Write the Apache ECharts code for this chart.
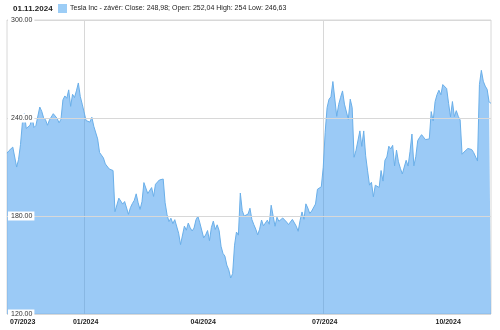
<!DOCTYPE html>
<html>
<head>
<meta charset="utf-8">
<script src="https://cdn.jsdelivr.net/npm/echarts@6/dist/echarts.min.js"></script>
<style>
html,body{margin:0;padding:0;background:#fff;}
#chart{width:500px;height:330px;}
</style>
</head>
<body>
<div id="chart"></div>
<script>
// Daily closes (trading days), grouped by month
const nov2023 = [218.51,219.96,219.27,222.18,222.11,209.98,214.65,223.71,237.41,242.84,233.59,234.30,235.60,241.20,234.21,235.45,236.08,246.72,244.14,240.08];
const dec2023 = [238.83,235.58,238.72,239.37,242.64,243.84,239.74,237.01,239.29,251.05,253.50,252.08,257.22,247.14,254.50,252.54,256.61,261.44,253.18,248.48];
const jan2024 = [248.42,238.45,237.93,237.49,240.45,234.96,233.94,227.22,218.89,219.91,215.55,211.88,212.19,208.80,209.14,207.83,182.63,183.25,190.93,191.59,187.29];
const feb2024 = [188.86,187.91,181.06,185.10,187.58,189.56,193.57,188.13,184.02,188.71,200.45,199.95,193.76,194.77,197.41,191.97,199.40,199.73,202.04,201.88];
const mar2024 = [202.64,188.14,180.74,176.54,178.65,175.34,177.77,177.54,169.48,162.50,163.57,173.80,171.32,175.66,172.82,170.83,172.63,177.67,179.83,175.79];
const apr2024 = [175.22,166.63,168.38,171.11,164.90,172.98,176.88,171.76,174.60,171.05,161.48,157.11,155.45,149.93,147.05,142.05,144.68,162.13,170.18,168.29,194.05,183.28];
const may2024 = [179.99,180.01,181.19,184.76,177.81,174.72,171.97,168.47,171.89,177.55,173.99,174.84,177.46,174.95,186.60,180.11,173.74,179.24,176.75,176.19,178.79,178.08];
const jun2024 = [176.29,174.77,175.00,177.94,177.48,173.79,170.66,177.29,182.47,178.01,187.44,184.86,181.57,183.01,182.58,187.35,196.37,197.42,197.88];
const jul2024 = [209.86,231.26,246.39,251.52,252.94,262.33,263.26,241.03,248.23,252.64,256.56,248.50,249.23,239.20,251.51,246.38,215.99,220.25,219.80,232.10,222.62,232.07];
const aug2024 = [216.86,207.67,198.88,200.64,191.76,198.84,200.00,197.49,207.83,201.38,214.14,216.12,222.72,221.10,223.27,210.66,220.32,213.21,209.21,205.75,206.28,214.11];
const sep2024 = [210.60,219.41,230.17,210.73,216.27,226.17,228.13,229.81,230.29,226.78,227.87,227.20,243.92,238.25,250.00,254.27,257.02,254.22,260.46,261.63];
const oct2024 = [258.02,249.02,240.66,250.08,240.83,244.50,241.05,238.77,217.80,219.16,219.57,221.33,220.89,220.70,218.85,217.97,213.65,260.48,269.19,262.51,259.52,257.55,249.85];
const nov2024 = [248.98];

const months = [nov2023, dec2023, jan2024, feb2024, mar2024, apr2024, may2024, jun2024, jul2024, aug2024, sep2024, oct2024, nov2024];

// x tick labels and the month group whose first trading day carries each label
const tickLabels = ['07/2023', '01/2024', '04/2024', '07/2024', '10/2024'];
const tickMonths = [0, 2, 5, 8, 11];
const gridMonths = [2, 8];               // month groups with a vertical grid line

const yTicks = [120, 180, 240, 300];

const seriesName = 'Tesla Inc - závěr: Close: 248,98; Open: 252,04 High: 254 Low: 246,63';
const titleText = '01.11.2024';

// build
const closes = [].concat(...months);
const starts = [];
let acc = 0;
months.forEach(m => { starts.push(acc); acc += m.length; });
const tickIdx = tickMonths.map(mi => starts[mi]);
const gridIdx = gridMonths.map(mi => starts[mi]);
const cats = closes.map((_, i) => String(i));

const chart = echarts.init(document.getElementById('chart'), null, {renderer: 'canvas'});
const FONT = 'Liberation Sans, Arial, sans-serif';
chart.setOption({
  animation: false,
  backgroundColor: '#fff',
  title: {
    text: titleText, left: 13, top: 5, padding: 0,
    textStyle: {fontSize: 8, fontWeight: 'bold', color: '#222', fontFamily: FONT}
  },
  legend: {
    data: [seriesName], left: 58, top: 4, padding: 0, icon: 'rect',
    itemWidth: 9, itemHeight: 9, itemGap: 4,
    textStyle: {fontSize: 7, color: '#222', fontFamily: FONT, padding: [0,0,0,-2]}
  },
  grid: {left: 7, right: 9, top: 20, bottom: 16, show: true, borderColor: '#d8d8d8', borderWidth: 1},
  xAxis: {
    type: 'category', data: cats, boundaryGap: false,
    axisLine: {show: false}, axisTick: {show: false},
    axisLabel: {
      interval: (i) => tickIdx.includes(i),
      formatter: (v) => { const k = tickIdx.indexOf(Number(v)); return k >= 0 ? tickLabels[k] : ''; },
      fontSize: 7, fontWeight: 'bold', color: '#222', fontFamily: FONT, margin: 5, alignMinLabel: 'left', padding: [0,0,0,3]
    },
    splitLine: {show: true, interval: (i) => gridIdx.includes(i), lineStyle: {color: '#d8d8d8', width: 1}}
  },
  yAxis: {
    type: 'value', min: yTicks[0], max: yTicks[yTicks.length-1], interval: 60,
    axisLine: {show: false}, axisTick: {show: false},
    axisLabel: {
      inside: true, margin: 1, fontSize: 7, color: '#333', fontFamily: FONT,
      backgroundColor: '#fff', padding: [1, 2, 1, 3],
      formatter: (v) => v.toFixed(2)
    },
    splitLine: {show: true, lineStyle: {color: '#d8d8d8', width: 1}},
    z: 5
  },
  series: [{
    name: seriesName, type: 'line', data: closes, showSymbol: false, symbol: 'none',
    lineStyle: {color: '#6aafe9', width: 1},
    itemStyle: {color: '#9ccdf6'},
    areaStyle: {color: 'rgba(55,150,238,0.5)', opacity: 1, origin: 'start'},
    z: 1
  }]
});
</script>
</body>
</html>
